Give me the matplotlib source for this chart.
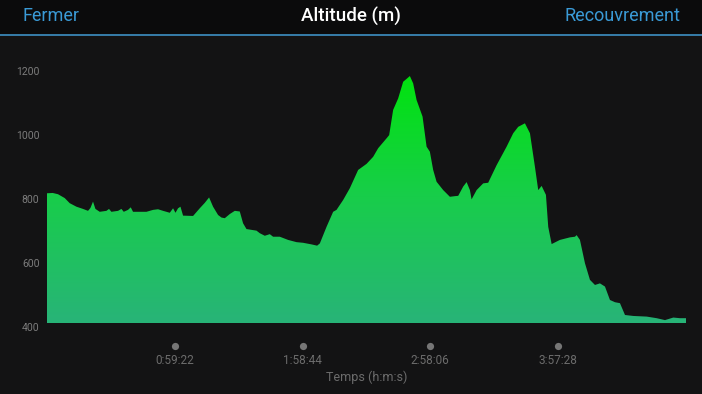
import matplotlib
matplotlib.use("Agg")
import matplotlib.pyplot as plt
import numpy as np
from matplotlib.colors import LinearSegmentedColormap
from matplotlib.transforms import ScaledTranslation, blended_transform_factory
from matplotlib.patches import Rectangle

# ---- data (time in seconds, altitude in metres) ----
time_s = [0, 159, 307, 494, 633, 820, 1004, 1144, 1211, 1283, 1350, 1470, 1657, 1729,
          1796, 1981, 2075, 2140, 2259, 2335, 2399, 2773, 2957, 3096, 3236, 3423, 3515,
          3582, 3654, 3721, 3794, 4073, 4259, 4399, 4519, 4630, 4770, 4865, 4957, 5096,
          5236, 5375, 5467, 5562, 5841, 5933, 6073, 6212, 6304, 6491, 6722, 6957, 7141,
          7375, 7531, 7607, 7794, 7978, 8072, 8257, 8444, 8675, 8909, 9093, 9233, 9467,
          9540, 9651, 9791, 9930, 10025, 10117, 10209, 10304, 10471, 10583, 10675, 10767,
          10862, 11046, 11233, 11373, 11465, 11604, 11699, 11791, 11838, 11978, 12162,
          12301, 12536, 12815, 12999, 13138, 13325, 13465, 13604, 13696, 13791, 13911,
          13975, 14070, 14301, 14580, 14720, 14767, 14859, 14999, 15138, 15278, 15417,
          15557, 15696, 15836, 15975, 16115, 16346, 16720, 16999, 17230, 17462, 17648, 17816]
altitude_m = [807, 808, 804, 792, 776, 765, 758, 752, 761, 781, 758, 749, 752, 758,
              749, 752, 758, 749, 755, 763, 749, 749, 755, 757, 752, 746, 760,
              746, 760, 765, 737, 736, 760, 777, 794, 765, 739, 731, 729, 742,
              752, 750, 713, 695, 690, 682, 674, 679, 671, 671, 661, 654, 652,
              647, 643, 650, 702, 749, 755, 786, 823, 880, 899, 921, 948, 979,
              989, 1068, 1104, 1156, 1165, 1174, 1151, 1099, 1047, 953, 937, 880,
              843, 817, 796, 798, 799, 828, 842, 817, 788, 817, 838,
              840, 895, 953, 995, 1015, 1026, 995, 890, 817, 830, 802,
              702, 648, 661, 669, 671, 676, 661, 588, 536, 520, 525,
              515, 473, 466, 463, 426, 423, 421, 416, 410, 418, 416, 416]
y_ticks = [400, 600, 800, 1000, 1200]
x_ticks = [3562, 7124, 10686, 14248]
x_tick_labels = ["0:59:22", "1:58:44", "2:58:06", "3:57:28"]

W, H = 702, 394
fig = plt.figure(figsize=(W / 100, H / 100), dpi=100)
bg = "#131314"
fig.patch.set_facecolor(bg)
font = "Roboto"

# header band
fig.patches.append(Rectangle((0, (H - 35) / H), 1, 35 / H, transform=fig.transFigure,
                             facecolor="#0b0b0c", edgecolor="none", zorder=0))
fig.add_artist(plt.Line2D([0, 1], [(H - 35) / H, (H - 35) / H], transform=fig.transFigure,
                          color="#3a86b6", lw=1.3))
hy = (H - 16) / H
fig.text(22 / W, hy, "Fermer", color="#3a9ad6", fontsize=13, family=font,
         ha="left", va="center")
fig.text(351 / W, hy, "Altitude (m)", color="white", fontsize=13.5, family=font,
         ha="center", va="center", fontweight="medium")
fig.text(680 / W, hy, "Recouvrement", color="#3a9ad6", fontsize=13, family=font,
         ha="right", va="center")

# axes
left_px, right_px, bottom_px, top_px = 47, 686, 323.3, 40
ax = fig.add_axes([left_px / W, (H - bottom_px) / H, (right_px - left_px) / W,
                   (bottom_px - top_px) / H])
ax.set_facecolor(bg)
ymax = 400 + (bottom_px - top_px) * 3.13
ax.set_xlim(0, time_s[-1])
ax.set_ylim(400, ymax)
for s in ax.spines.values():
    s.set_visible(False)

t = np.array(time_s, dtype=float)
a = np.array(altitude_m, dtype=float)
poly = ax.fill_between(t, 400, a, facecolor="none", edgecolor="none")
cmap = LinearSegmentedColormap.from_list("g", [(0.0, "#28b478"), (0.5, "#18cd4a"),
                                               (1.0, "#00e40c")])
grad = np.linspace(0, 1, 256).reshape(-1, 1)
im = ax.imshow(grad, cmap=cmap, aspect="auto", origin="lower",
               extent=[0, time_s[-1], 400, 1190], interpolation="bilinear", zorder=2)
clip = poly.get_paths()[0]
im.set_clip_path(clip, transform=ax.transData)

# y ticks
ax.set_yticks(y_ticks)
ax.set_yticklabels([str(v) for v in y_ticks])
ax.tick_params(axis="y", length=0, pad=7.5 * 72 / 100, labelsize=7.5, labelcolor="#7c7c7c")
for lab in ax.get_yticklabels():
    lab.set_family(font)
    lab.set_transform(lab.get_transform() + ScaledTranslation(0, -3.5 / 100, fig.dpi_scale_trans))
ax.set_xticks([])

# x ticks: dots + labels below
tr = blended_transform_factory(ax.transData, fig.transFigure)
ax.plot(x_ticks, [(H - 345.7) / H] * len(x_ticks), "o", color="#767676", ms=5.2,
        mec="none", transform=tr, clip_on=False)
for xv, lab in zip(x_ticks, x_tick_labels):
    ax.text(xv, (H - 360.7) / H, lab, transform=tr, ha="center", va="center",
            color="#6c6c6c", fontsize=8.5, family=font)
fig.text((left_px + right_px) / 2 / W, (H - 377.7) / H, "Temps (h:m:s)", ha="center",
         va="center", color="#6c6c6c", fontsize=9, family=font)

fig.savefig("out.png", dpi=100, facecolor=bg)
